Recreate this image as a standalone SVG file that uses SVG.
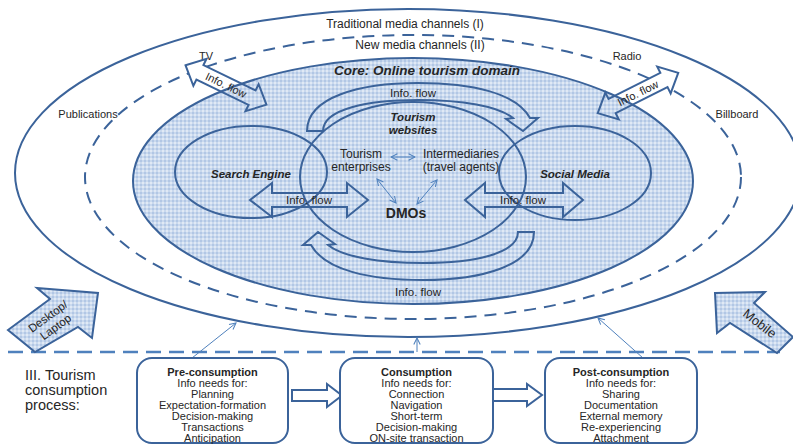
<svg xmlns="http://www.w3.org/2000/svg" xmlns:xlink="http://www.w3.org/1999/xlink" width="793" height="446" viewBox="0 0 793 446">
<style>
.ln{fill:none;stroke:#3b639a;stroke-width:2}
.t{font-family:"Liberation Sans",Arial,sans-serif;fill:#262626;text-anchor:middle}
.bi{font-weight:bold;font-style:italic}
.b{font-weight:bold}
.thin{fill:none;stroke:#4f81bd;stroke-width:1}
.box{fill:#ffffff;stroke:#3b639a;stroke-width:2}
</style>
<defs>
<pattern id="chk" width="4" height="4" patternUnits="userSpaceOnUse">
<rect width="4" height="4" fill="#c9d9ee"/>
<rect width="2" height="2" fill="#b2c7e5"/>
<rect x="2" y="2" width="2" height="2" fill="#e0e9f5"/>
</pattern>
<marker id="ah" viewBox="0 0 10 10" refX="9" refY="5" markerWidth="8" markerHeight="8" markerUnits="userSpaceOnUse" orient="auto-start-reverse">
<path d="M1,1 L9,5 L1,9" fill="none" stroke="#4f81bd" stroke-width="1.3"/>
</marker>
<polygon id="dbl" points="-45,0 -29,-15 -29,-8 29,-8 29,-15 45,0 29,15 29,8 -29,8 -29,15"/>
</defs>
<rect width="793" height="446" fill="#ffffff"/>

<g id="traditional-media">
<ellipse class="ln" cx="408" cy="173" rx="393" ry="164"/>
<text class="t" x="405" y="28" font-size="12">Traditional media channels (I)</text>
<text class="t" x="88" y="118" font-size="11">Publications</text>
<text class="t" x="737" y="118" font-size="11">Billboard</text>
</g>

<g id="new-media">
<ellipse class="ln" cx="413" cy="177" rx="328" ry="142" stroke-dasharray="12 8"/>
<text class="t" x="420" y="49" font-size="12">New media channels (II)</text>
<text class="t" x="206" y="60" font-size="11">TV</text>
<text class="t" x="627" y="60" font-size="11">Radio</text>
</g>

<g id="tv-arrow-fill">
<use xlink:href="#dbl" transform="translate(226,85) rotate(26)" fill="#ffffff"/>
</g>
<g id="radio-arrow-fill">
<use xlink:href="#dbl" transform="translate(638,93) rotate(-26.6)" fill="#ffffff"/>
</g>

<g id="core">
<ellipse cx="413" cy="181" rx="280" ry="123" fill="url(#chk)" stroke="#3b639a" stroke-width="2"/>
<text class="t bi" x="427" y="75" font-size="13.5">Core: Online tourism domain</text>
</g>

<g id="search-engine">
<ellipse class="ln" cx="251" cy="172" rx="76" ry="46"/>
<text class="t bi" x="251" y="178" font-size="11.5">Search Engine</text>
</g>

<g id="social-media">
<ellipse class="ln" cx="575" cy="173" rx="76" ry="47"/>
<text class="t bi" x="575" y="178" font-size="11.5">Social Media</text>
</g>

<g id="tourism-websites">
<ellipse class="ln" cx="413" cy="177" rx="113" ry="75"/>
<text class="t bi" x="413" y="121" font-size="11.5">Tourism</text>
<text class="t bi" x="413" y="134" font-size="11.5">websites</text>
<text class="t" x="361" y="158" font-size="12">Tourism</text>
<text class="t" x="361" y="171" font-size="12">enterprises</text>
<text class="t" x="461" y="158" font-size="12">Intermediaries</text>
<text class="t" x="461" y="171" font-size="12">(travel agents)</text>
<text class="t b" x="406" y="218" font-size="14">DMOs</text>
</g>

<g id="connectors">
<!-- TV / Radio double arrows outline -->
<g transform="translate(226,85) rotate(26)">
<use xlink:href="#dbl" class="ln"/>
<text class="t" x="0" y="4" font-size="11">Info. flow</text>
</g>
<g transform="translate(638,93) rotate(-26.6)">
<use xlink:href="#dbl" class="ln"/>
<text class="t" x="0" y="4" font-size="11">Info. flow</text>
</g>
<!-- curved arrows -->
<path id="curve-top" class="ln" d="M307,131 C307,97 360,83 418,83 C472,83 516,93 530,118 L538,118 L523,131 L506,119 L513,118 C498,106 462,100 418,100 C368,100 323,109 323,131 Z"/>
<path class="ln" d="M307,131 C307,97 360,83 418,83 C472,83 516,93 530,118 L538,118 L523,131 L506,119 L513,118 C498,106 462,100 418,100 C368,100 323,109 323,131 Z" transform="rotate(180 420.5 181.5)"/>
<text class="t" x="413" y="97" font-size="11.5">Info. flow</text>
<text class="t" x="418" y="296" font-size="11.5">Info. flow</text>
<!-- horizontal double arrows -->
<polygon class="ln" points="250,200 272,183 272,193 347,193 347,183 368,200 347,217 347,207 272,207 272,217"/>
<text class="t" x="309" y="204" font-size="11.5">Info. flow</text>
<polygon class="ln" points="465,200 485,183 485,193 563,193 563,183 583,200 563,217 563,207 485,207 485,217"/>
<text class="t" x="523" y="204" font-size="11.5">Info. flow</text>
<!-- small double arrows inside tourism websites -->
<line class="thin" x1="391" y1="157" x2="415" y2="157" marker-start="url(#ah)" marker-end="url(#ah)"/>
<line class="thin" x1="377" y1="179" x2="396" y2="203" marker-start="url(#ah)" marker-end="url(#ah)"/>
<line class="thin" x1="437" y1="180" x2="417" y2="204" marker-start="url(#ah)" marker-end="url(#ah)"/>
<!-- separator -->
<line x1="8" y1="352" x2="780" y2="352" stroke="#4f81bd" stroke-width="2.5" stroke-dasharray="15 8"/>
<!-- process to media links -->
<line class="thin" x1="192" y1="358" x2="236" y2="323" marker-end="url(#ah)"/>
<line class="thin" x1="417" y1="352" x2="417" y2="338" marker-end="url(#ah)"/>
<line class="thin" x1="643" y1="358" x2="598" y2="318" marker-end="url(#ah)"/>
<!-- process block arrows -->
<polygon class="ln" points="292,390 327,390 327,384 342,395.5 327,407 327,401 292,401" fill="#ffffff"/>
<polygon class="ln" points="493,389 527,389 527,384 542,395 527,406 527,401 493,401" fill="#ffffff"/>
</g>

<g id="desktop-laptop">
<polygon points="8,330 50,299 37,288 98,293 92,338 78,327 35,352" fill="url(#chk)" stroke="#3b639a" stroke-width="2" stroke-linejoin="miter"/>
<g transform="translate(52,322) rotate(-36)">
<text class="t" x="0" y="-3" font-size="11.5">Desktop/</text>
<text class="t" x="0" y="10" font-size="11.5">Laptop</text>
</g>
</g>

<g id="mobile">
<polygon points="715,293 765,292 754,303 793,337 777,353 730,323 717,333" fill="url(#chk)" stroke="#3b639a" stroke-width="2"/>
<text class="t" x="0" y="0" font-size="13" transform="translate(757,327) rotate(38)">Mobile</text>
</g>

<g id="process-label">
<text class="t" x="25" y="380" font-size="14.5" text-anchor="start" style="text-anchor:start">III. Tourism</text>
<text class="t" x="25" y="395" font-size="14.5" style="text-anchor:start">consumption</text>
<text class="t" x="25" y="410" font-size="14.5" style="text-anchor:start">process:</text>
</g>

<g id="pre-consumption">
<rect class="box" x="137" y="358" width="151" height="85" rx="15"/>
<text class="t b" x="212.5" y="375.5" font-size="11">Pre-consumption</text>
<text class="t" x="212.5" y="386.6" font-size="11">Info needs for:</text>
<text class="t" x="212.5" y="397.7" font-size="11">Planning</text>
<text class="t" x="212.5" y="408.8" font-size="11">Expectation-formation</text>
<text class="t" x="212.5" y="419.9" font-size="11">Decision-making</text>
<text class="t" x="212.5" y="431" font-size="11">Transactions</text>
<text class="t" x="212.5" y="442" font-size="11">Anticipation</text>
</g>

<g id="consumption">
<rect class="box" x="340" y="358" width="153" height="85" rx="15"/>
<text class="t b" x="416.5" y="375.5" font-size="11">Consumption</text>
<text class="t" x="416.5" y="386.6" font-size="11">Info needs for:</text>
<text class="t" x="416.5" y="397.7" font-size="11">Connection</text>
<text class="t" x="416.5" y="408.8" font-size="11">Navigation</text>
<text class="t" x="416.5" y="419.9" font-size="11">Short-term</text>
<text class="t" x="416.5" y="431" font-size="11">Decision-making</text>
<text class="t" x="416.5" y="442" font-size="11">ON-site transaction</text>
</g>

<g id="post-consumption">
<rect class="box" x="545" y="358" width="152" height="85" rx="15"/>
<text class="t b" x="621" y="375.5" font-size="11">Post-consumption</text>
<text class="t" x="621" y="386.6" font-size="11">Info needs for:</text>
<text class="t" x="621" y="397.7" font-size="11">Sharing</text>
<text class="t" x="621" y="408.8" font-size="11">Documentation</text>
<text class="t" x="621" y="419.9" font-size="11">External memory</text>
<text class="t" x="621" y="431" font-size="11">Re-experiencing</text>
<text class="t" x="621" y="442" font-size="11">Attachment</text>
</g>
</svg>
